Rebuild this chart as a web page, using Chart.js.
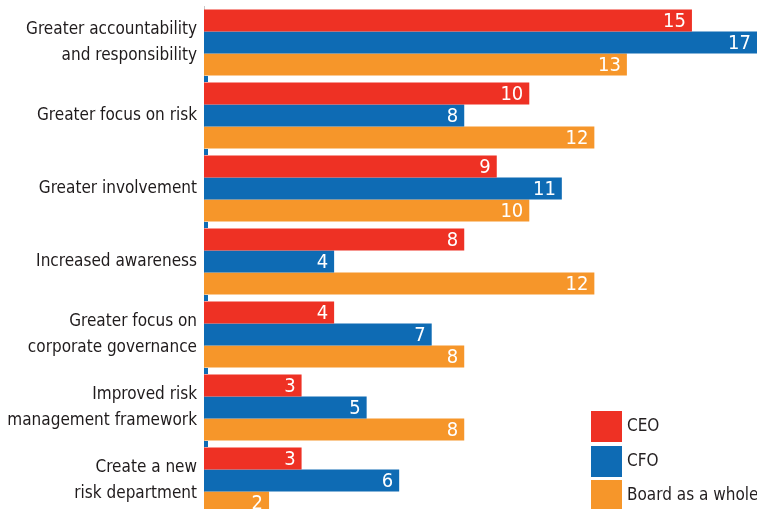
<!DOCTYPE html>
<html>
<head>
<meta charset="utf-8">
<script src="https://cdn.jsdelivr.net/npm/chart.js@4/dist/chart.umd.min.js"></script>
<style>
  html, body { margin: 0; padding: 0; background: #fff; overflow: hidden; }
  #wrap { width: 757px; height: 517px; position: relative; }
</style>
</head>
<body>
<div id="wrap"><canvas id="chart"></canvas></div>
<script>
// Data
const categories = [
  ['Greater accountability', 'and responsibility'],
  'Greater focus on risk',
  'Greater involvement',
  'Increased awareness',
  ['Greater focus on', 'corporate governance'],
  ['Improved risk', 'management framework'],
  ['Create a new', 'risk department']
];
const seriesNames = ['CEO', 'CFO', 'Board as a whole'];
const ceoValues = [15, 10, 9, 8, 4, 3, 3];
const cfoValues = [17, 8, 11, 4, 7, 5, 6];
const boardValues = [13, 12, 10, 12, 8, 8, 2];
const colors = ['#ee3124', '#0e6bb4', '#f6962a'];

const FONT = '"Liberation Sans Narrow", "DejaVu Sans Condensed", "Roboto", sans-serif';

// white numbers at the end of each bar
const valueLabels = {
  id: 'valueLabels',
  afterDatasetsDraw(chart) {
    const ctx = chart.ctx;
    ctx.save();
    ctx.fillStyle = '#fff';
    ctx.font = '20px ' + FONT;
    ctx.textAlign = 'right';
    ctx.textBaseline = 'middle';
    chart.data.datasets.forEach((ds, i) => {
      chart.getDatasetMeta(i).data.forEach((bar, j) => {
        ctx.fillText(ds.data[j], bar.x - 6, bar.y + 1);
      });
    });
    ctx.restore();
  }
};

// small blue marks on the axis below each group
const axisMarks = {
  id: 'axisMarks',
  afterDatasetsDraw(chart) {
    const ctx = chart.ctx;
    const y = chart.scales.y;
    const left = chart.chartArea.left;
    ctx.save();
    ctx.fillStyle = colors[1];
    for (let i = 0; i < categories.length - 1; i++) {
      const mid = (y.getPixelForValue(i) + y.getPixelForValue(i + 1)) / 2;
      ctx.fillRect(left, mid - 3, 4, 6);
    }
    ctx.restore();
  }
};

// legend in the lower right corner
const boxLegend = {
  id: 'boxLegend',
  afterDraw(chart) {
    const ctx = chart.ctx;
    ctx.save();
    ctx.font = '17px ' + FONT;
    ctx.textBaseline = 'middle';
    ctx.textAlign = 'left';
    const tops = [411, 446, 480];
    seriesNames.forEach((name, i) => {
      ctx.fillStyle = colors[i];
      ctx.fillRect(591, tops[i], 31, 31);
      ctx.fillStyle = '#231f20';
      ctx.fillText(name, 627, tops[i] + 16);
    });
    ctx.restore();
  }
};

new Chart(document.getElementById('chart'), {
  type: 'bar',
  data: {
    labels: categories,
    datasets: [
      { label: seriesNames[0], data: ceoValues, backgroundColor: colors[0] },
      { label: seriesNames[1], data: cfoValues, backgroundColor: colors[1] },
      { label: seriesNames[2], data: boardValues, backgroundColor: colors[2] }
    ]
  },
  options: {
    indexAxis: 'y',
    responsive: true,
    maintainAspectRatio: false,
    animation: false,
    layout: { padding: { top: 6, right: 0, bottom: 0, left: 0 } },
    datasets: {
      bar: { categoryPercentage: 0.904, barPercentage: 1.0, borderWidth: 0 }
    },
    scales: {
      x: {
        display: false,
        min: 0,
        max: 17
      },
      y: {
        afterFit(scale) {
          scale.width = 204;
          scale.paddingTop = 0;
          scale.paddingBottom = 0;
        },
        grid: { display: false, drawTicks: false },
        border: { display: true, color: '#c8c8c8', width: 1 },
        ticks: {
          color: '#1f1b1c',
          padding: 7,
          font: { family: FONT, size: 17, lineHeight: 1.5 }
        }
      }
    },
    plugins: {
      legend: { display: false },
      tooltip: { enabled: false }
    }
  },
  plugins: [valueLabels, axisMarks, boxLegend]
});
</script>
</body>
</html>
